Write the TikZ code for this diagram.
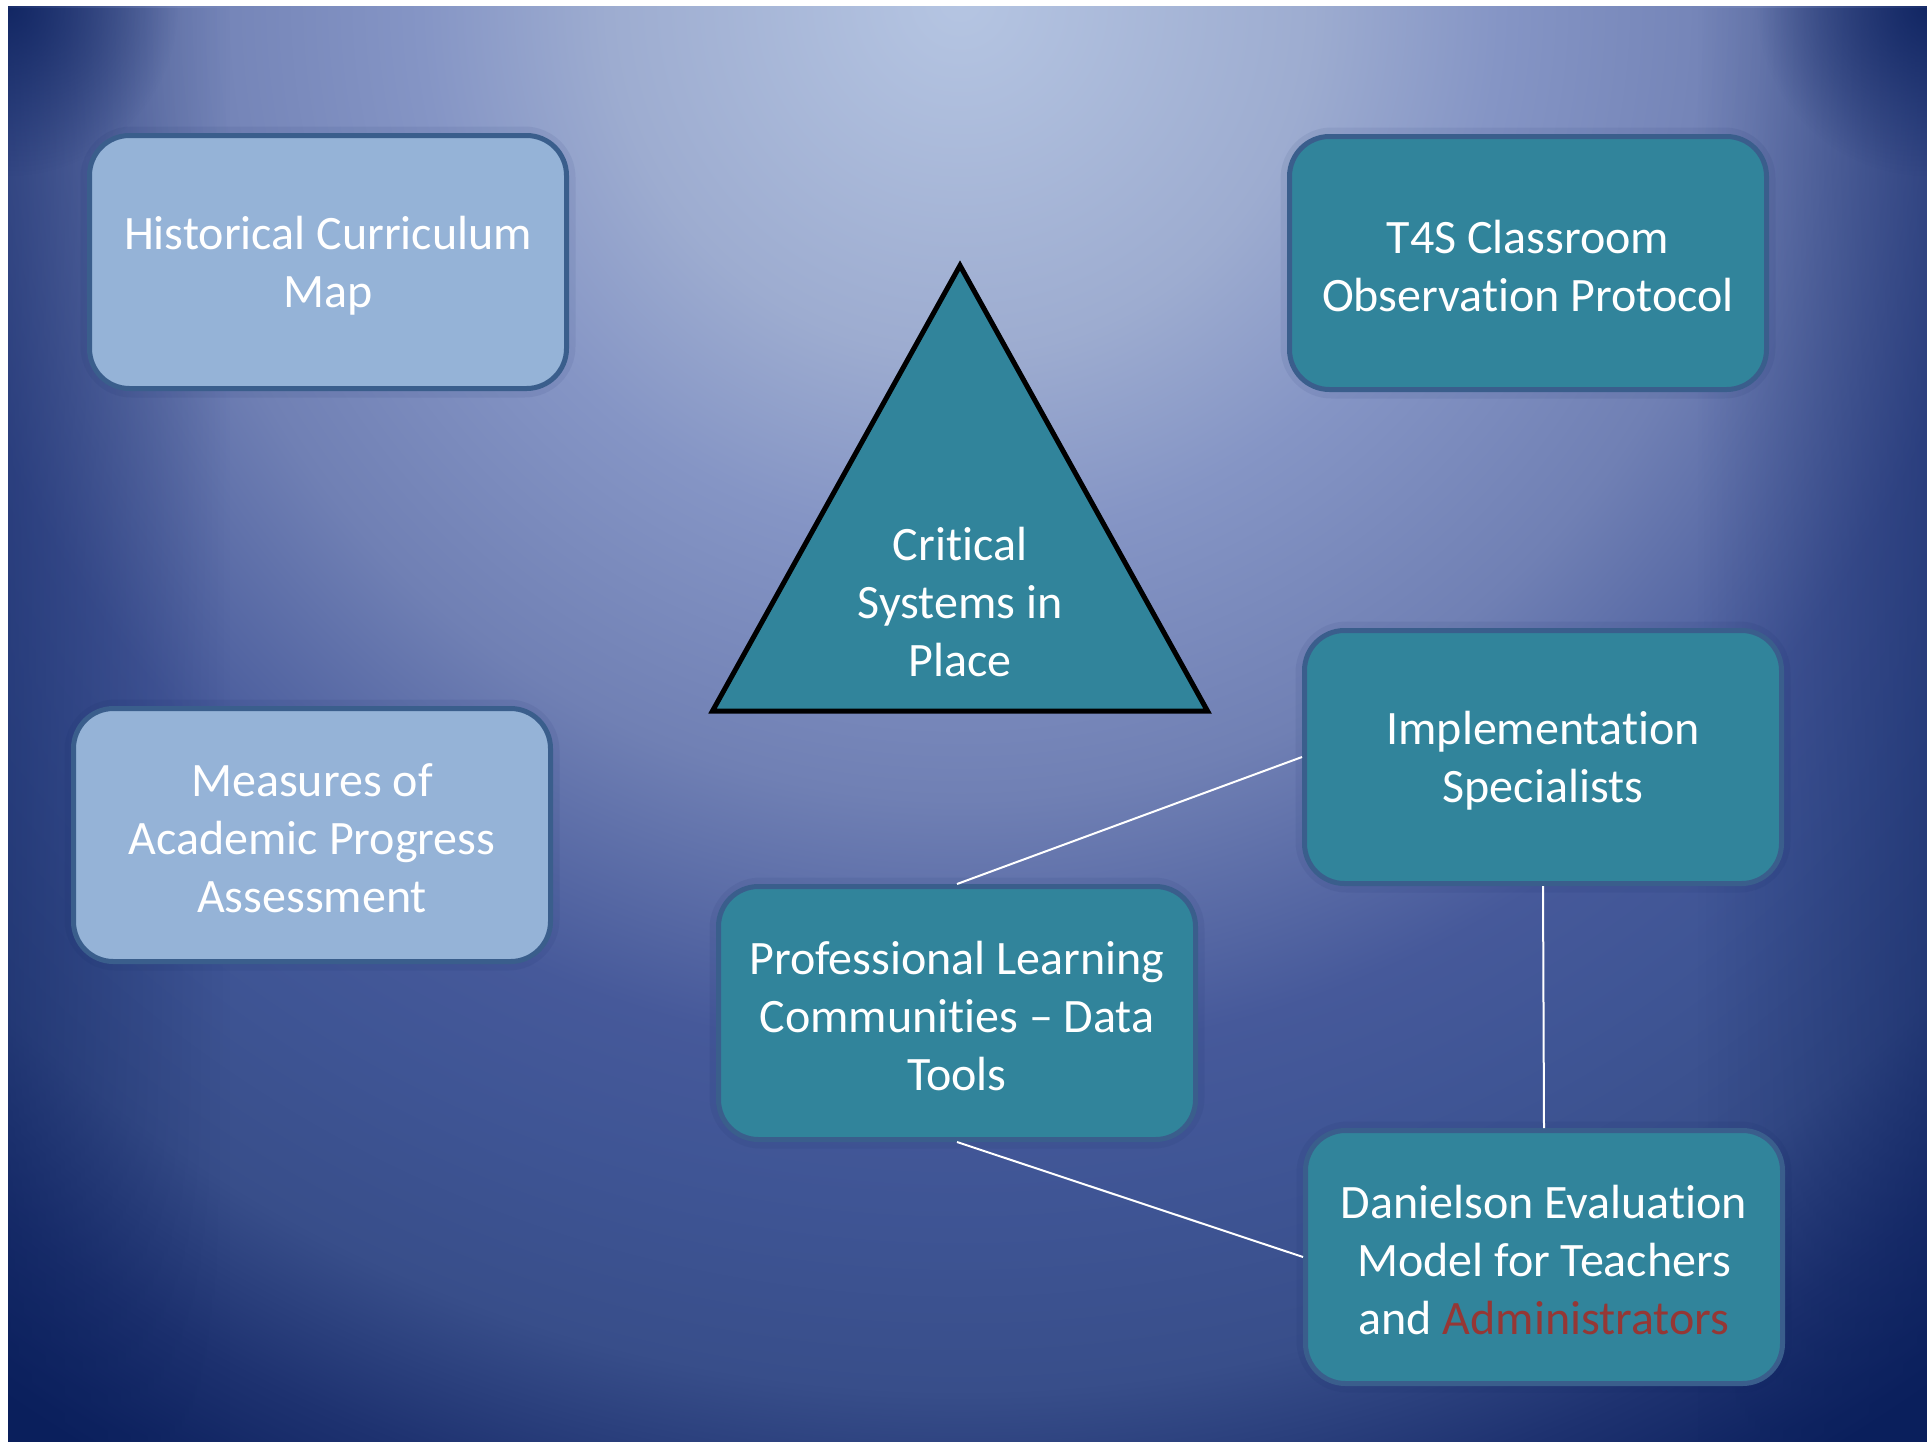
\documentclass[tikz,border=0pt]{standalone}
\usepackage{fontspec}
\setmainfont{Carlito}[RawFeature={-liga;-clig;-calt;-dlig;-rlig}]
\usetikzlibrary{fadings}
\definecolor{bgA}{HTML}{B5C5E2}
\definecolor{bgB}{HTML}{9DACD0}
\definecolor{bgC}{HTML}{8595C5}
\definecolor{bgD}{HTML}{7080B4}
\definecolor{bgE}{HTML}{46599A}
\definecolor{bgE2}{HTML}{3F5595}
\definecolor{bgF}{HTML}{384E8A}
\definecolor{bgG}{HTML}{1E3270}
\definecolor{bgH}{HTML}{0A1F5C}
\definecolor{navy}{HTML}{0A1F5C}
\definecolor{boxedge}{HTML}{3A5E8C}
\definecolor{lightfill}{HTML}{95B3D7}
\definecolor{tealfill}{HTML}{31849B}
\definecolor{admred}{HTML}{953735}
\pgfdeclareradialshading{bgshade}{\pgfpoint{0bp}{0bp}}{color(0bp)=(bgA); color(4.9bp)=(bgB); color(7.5bp)=(bgC); color(11.1bp)=(bgD); color(14.7bp)=(bgE); color(16.7bp)=(bgE2); color(19.3bp)=(bgF); color(21.5bp)=(bgG); color(23.6bp)=(bgH); color(50bp)=(bgH)}
\tikzfading[name=edgeleft, left color=transparent!0, right color=transparent!100]
\tikzfading[name=edgeright, left color=transparent!100, right color=transparent!0]
\tikzfading[name=fuzzycirc, inner color=transparent!0, outer color=transparent!100]
\tikzset{
  box/.style={draw=boxedge, line width=5pt, rounded corners=40pt, minimum width=477pt, minimum height=253pt, inner sep=0pt},
  lightbox/.style={box, fill=lightfill},
  tealbox/.style={box, fill=tealfill},
  boxtext/.style={text=white, align=center, font=\fontsize{48}{58}\selectfont, inner sep=0pt},
  halo/.style={draw=navy, line width=14pt, rounded corners=44pt, opacity=0.07},
  link/.style={draw=white, line width=2pt},
  tri/.style={draw=black, line width=5pt, fill=tealfill, line join=miter},
}
\begin{document}
\begin{tikzpicture}[x=1pt, y=-1pt]
\useasboundingbox (0,0) rectangle (1927,1441);
\fill[white] (0,0) rectangle (1927,1441);
\begin{scope}
  \clip (8,6) rectangle (1927,1441);
  \shade[shading=bgshade] (-840,-1800) rectangle (2760,1800);
  \fill[navy, fill opacity=0.45, path fading=edgeleft] (8,6) rectangle (230,1441);
  \fill[navy, fill opacity=0.45, path fading=edgeright] (1697,6) rectangle (1927,1441);
  \fill[navy, fill opacity=0.8, path fading=fuzzycirc] (8,6) circle (170);
  \fill[navy, fill opacity=0.8, path fading=fuzzycirc] (1927,6) circle (170);
\end{scope}
% soft shadows
\foreach \cx/\cy in {328/262, 1528/263, 1543/757, 312/835, 957/1013, 1544/1257}
  \draw[halo] (\cx-240.5,\cy-128.5) rectangle (\cx+240.5,\cy+128.5);
% triangle
\coordinate (apex) at (960,265.5);
\coordinate (bl) at (712.5,711);
\coordinate (br) at (1207.5,711);
\draw[tri] (apex) -- (br) -- (bl) -- cycle;
\node[boxtext] (csp) at (960,602) {Critical\\Systems in\\Place};
% boxes
\node[lightbox] (hcm) at (328,262) {};
\node[boxtext] (hcm-t) at (328,265.5) {Historical Curriculum\\Map};
\node[tealbox] (t4s) at (1528,263) {};
\node[boxtext] (t4s-t) at (1528,266.5) {T4S Classroom\\Observation Protocol};
\node[tealbox] (impl) at (1543,757) {};
\node[boxtext] (impl-t) at (1543,761) {Implementation\\Specialists};
\node[lightbox] (mapa) at (312,835) {};
\node[boxtext] (mapa-t) at (312,838) {Measures of\\Academic Progress\\Assessment};
\node[tealbox] (plc) at (957,1013) {};
\node[boxtext] (plc-t) at (957,1015.5) {Professional Learning\\Communities – Data\\Tools};
\node[tealbox] (dan) at (1544,1257) {};
\node[boxtext] (dan-t) at (1544,1259.5) {Danielson Evaluation\\Model for Teachers\\and \textcolor{admred}{Administrators}};
% connectors
\draw[link] (plc.north) -- (impl.west);
\draw[link] (impl.south) -- (dan.north);
\draw[link] (plc.south) -- (dan.west);
\end{tikzpicture}
\end{document}
